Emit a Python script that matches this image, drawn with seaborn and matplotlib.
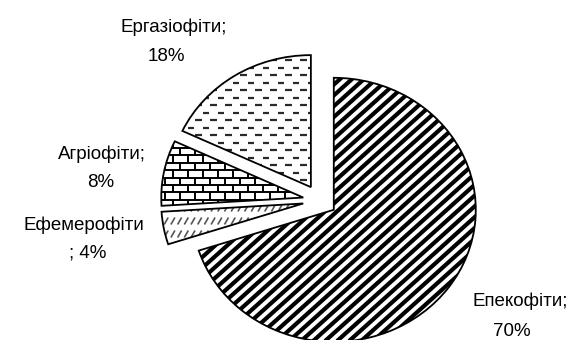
import numpy as np
import matplotlib
matplotlib.use("Agg")
import matplotlib.pyplot as plt
from matplotlib.collections import LineCollection
import seaborn as sns

# Share of alien plant groups, %
groups = ["Епекофіти", "Ефемерофіти", "Агріофіти", "Ергазіофіти"]
shares = [70, 4, 8, 18]
# labels whose semicolon moves to the second line
semicolon_on_second_line = [False, True, False, False]

sns.set_theme(style="white")
plt.rcParams["font.family"] = ["Liberation Sans", "DejaVu Sans"]

W, H = 568, 340
fig = plt.figure(figsize=(W / 100, H / 100), dpi=100)
ax = fig.add_axes([0, 0, 1, 1])

# pie centre and radii in pixel space (the pie is slightly stretched horizontally)
CX, CY = 320.0, 200.5
RX, RY = 142.0, 132.0

wedges, _ = ax.pie(
    shares,
    startangle=90,
    counterclock=False,
    explode=[0.12] * len(shares),
    colors=["none"] * len(shares),
    wedgeprops=dict(edgecolor="black", linewidth=1.3, zorder=3),
)
ax.set_aspect("auto")
ax.set_xlim(-CX / RX, (W - CX) / RX)
ax.set_ylim((CY - H) / RY, CY / RY)
ax.axis("off")


def to_data(px, py):
    return (px - CX) / RX, (CY - py) / RY


def segs_to_data(segs):
    out = []
    for (x0, y0), (x1, y1) in segs:
        out.append([to_data(x0, y0), to_data(x1, y1)])
    return out


def add_pattern(segs, wedge, color, lw):
    lc = LineCollection(segs_to_data(segs), colors=color, linewidths=lw,
                        zorder=2, capstyle="butt")
    ax.add_collection(lc)
    lc.set_clip_path(wedge)


# wide upward diagonal stripes
ang = np.deg2rad(42)
stripes = []
for x0 in np.arange(-500, 700, 12.0):
    L = 700
    stripes.append(((x0, 360), (x0 + L * np.cos(ang), 360 - L * np.sin(ang))))

# fine diagonal flecks
flecks = []
for i, y in enumerate(np.arange(0, 360, 13.0)):
    for x in np.arange(-10, 600, 6.7):
        flecks.append(((x, y + 3.5), (x + 4, y - 3.5)))

# brick pattern
bricks = []
rows = np.arange(0, 360, 7.4)
for i, y in enumerate(rows):
    bricks.append(((-10, y), (600, y)))
    off = 0 if i % 2 == 0 else 7.5
    for x in np.arange(-15 + off, 600, 15.0):
        bricks.append(((x, y), (x, y + 7.4)))

# dashed horizontal pattern
dashes = []
for i, y in enumerate(np.arange(0, 360, 7.5)):
    off = 0 if i % 2 == 0 else 7.5
    for x in np.arange(-15 + off, 600, 15.0):
        dashes.append(((x, y), (x + 6.5, y)))

add_pattern(stripes, wedges[0], "black", 3.0)
add_pattern(flecks, wedges[1], "#555555", 1.2)
add_pattern(bricks, wedges[2], "black", 1.4)
add_pattern(dashes, wedges[3], "#2a2a2a", 1.6)

# label lines: pixel anchor (centre x, baseline y) for each of the two lines
label_xy = [
    ((520, 306), (512, 336)),
    ((84, 230), (88, 258)),
    ((102, 159), (101, 187)),
    ((174, 32), (166, 61)),
]

for g, v, wrap, (p1, p2) in zip(groups, shares, semicolon_on_second_line, label_xy):
    line1 = g if wrap else f"{g};"
    line2 = f"; {v}%" if wrap else f"{v}%"
    for text, (px, py) in ((line1, p1), (line2, p2)):
        x, y = to_data(px, py)
        ax.text(x, y, text, ha="center", va="baseline", fontsize=13.5,
                color="black", zorder=4)

fig.savefig("out.png", dpi=100, facecolor="white")
